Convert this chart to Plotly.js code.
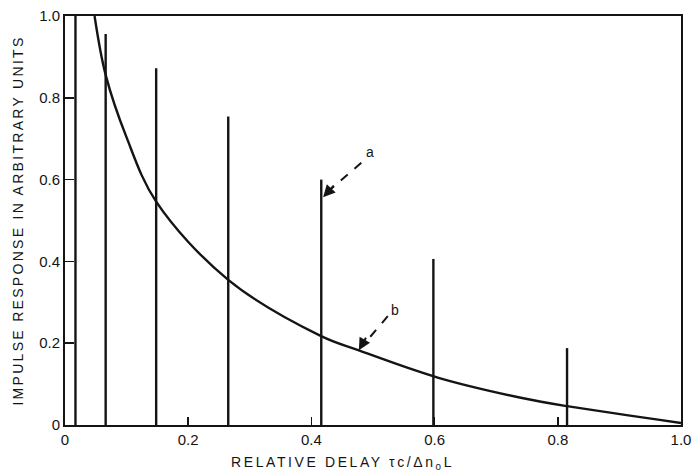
<!DOCTYPE html>
<html>
<head>
<meta charset="utf-8">
<script src="https://cdn.plot.ly/plotly-3.0.1.min.js"></script>
<style>html,body{margin:0;padding:0;background:#fff;}</style>
</head>
<body>
<div id="chart" style="width:692px;height:474px;"></div>
<script>
// Impulse positions (relative delay) and heights — graph "a"
const impulseDelay = [0.017, 0.066, 0.148, 0.265, 0.416, 0.598, 0.815];
const impulseHeight = [1.0, 0.956, 0.872, 0.754, 0.60, 0.406, 0.188];

// Continuous impulse response — curve "b"
const curveDelay = [0.048, 0.066, 0.0995, 0.148, 0.265, 0.415, 0.476, 0.605, 0.742, 0.815, 1.0];
const curveValue = [1.0, 0.856, 0.705, 0.546, 0.355, 0.218, 0.183, 0.116, 0.066, 0.046, 0.005];

const tickVals = [0, 0.2, 0.4, 0.6, 0.8, 1.0];
const tickText = ['0', '0.2', '0.4', '0.6', '0.8', '1.0'];

const ink = '#141414';

// build vertical segments for impulses
const segX = [], segY = [];
impulseDelay.forEach((d, i) => {
  segX.push(d, d, null);
  segY.push(0, impulseHeight[i], null);
});

const traces = [
  {x: segX, y: segY, type: 'scatter', mode: 'lines',
   line: {color: ink, width: 2.4}, hoverinfo: 'skip', connectgaps: false},
  {x: curveDelay, y: curveValue, type: 'scatter', mode: 'lines',
   line: {color: ink, width: 2.4, shape: 'spline', smoothing: 1}, hoverinfo: 'skip'}
];

const tickFont = {family: 'Liberation Sans, Arial, sans-serif', size: 15, color: ink};
const ls = (s, px) => '<span style="letter-spacing:' + px + 'px">' + s + '</span>';

const layout = {
  width: 692, height: 474,
  margin: {l: 65, r: 11, t: 16, b: 49},
  paper_bgcolor: '#fff', plot_bgcolor: '#fff',
  showlegend: false,
  xaxis: {
    range: [0, 1], tickvals: tickVals, ticktext: tickText,
    ticks: 'inside', ticklen: 8, tickwidth: 1.5, tickcolor: ink,
    showline: true, linecolor: ink, linewidth: 2, mirror: true,
    showgrid: false, zeroline: false, tickfont: tickFont,
    ticklabeloverflow: 'allow'
  },
  yaxis: {
    range: [0, 1], tickvals: tickVals, ticktext: tickText,
    ticks: 'inside', ticklen: 9, tickwidth: 1.5, tickcolor: ink,
    showline: true, linecolor: ink, linewidth: 2, mirror: true,
    showgrid: false, zeroline: false, tickfont: tickFont,
    ticklabeloverflow: 'allow',
    title: {text: ls('IMPULSE RESPONSE IN ARBITRARY UNITS', 2.3), standoff: 12,
            font: {family: 'Liberation Sans, Arial, sans-serif', size: 14, color: ink}}
  },
  shapes: [
    {type: 'line', xref: 'x', yref: 'y', x0: 0.481, y0: 0.641, x1: 0.427, y1: 0.571,
     line: {color: ink, width: 2, dash: 'dash'}},
    {type: 'line', xref: 'x', yref: 'y', x0: 0.524, y0: 0.266, x1: 0.485, y1: 0.197,
     line: {color: ink, width: 2, dash: 'dash'}}
  ],
  annotations: [
    {xref: 'paper', yref: 'paper', x: 0.45, y: -0.093, xanchor: 'center', yanchor: 'middle',
     showarrow: false, text: ls('RELATIVE DELAY τc/Δn<sub>0</sub>L', 2.6),
     font: {family: 'Liberation Sans, Arial, sans-serif', size: 14, color: ink}},
    {xref: 'x', yref: 'y', x: 0.495, y: 0.667, showarrow: false, text: 'a',
     font: {family: 'Liberation Sans, Arial, sans-serif', size: 14, color: ink}},
    {xref: 'x', yref: 'y', x: 0.535, y: 0.281, showarrow: false, text: 'b',
     font: {family: 'Liberation Sans, Arial, sans-serif', size: 14, color: ink}},
    {xref: 'x', yref: 'y', x: 0.419, y: 0.557, text: '', showarrow: true,
     arrowhead: 2, arrowsize: 1.2, arrowwidth: 2, arrowcolor: ink, ax: 12, ay: -13},
    {xref: 'x', yref: 'y', x: 0.477, y: 0.183, text: '', showarrow: true,
     arrowhead: 2, arrowsize: 1.2, arrowwidth: 2, arrowcolor: ink, ax: 8, ay: -14}
  ]
};

Plotly.newPlot('chart', traces, layout, {staticPlot: true, displayModeBar: false});
</script>
</body>
</html>
